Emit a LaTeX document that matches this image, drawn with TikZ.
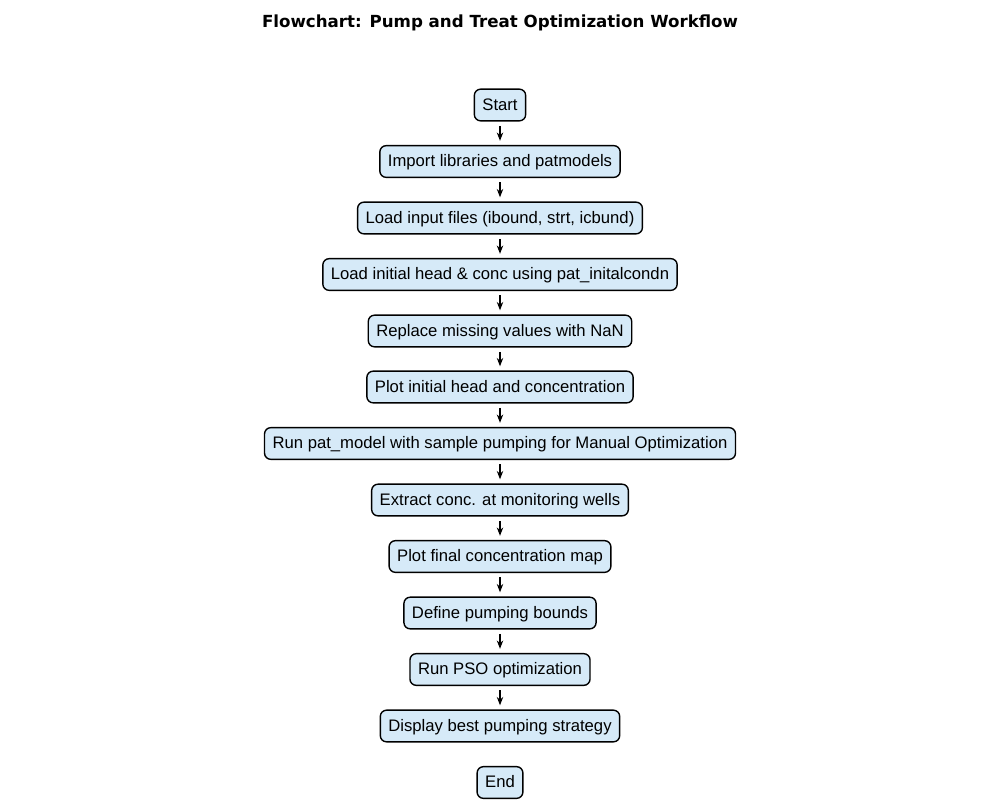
\documentclass[tikz,border=0pt]{standalone}
\usepackage{fontspec}
\setmainfont{Liberation Sans}
\newfontfamily\titlefont{DejaVu Sans}
\usetikzlibrary{arrows.meta}
\definecolor{boxfill}{HTML}{D6EAF8}
\definecolor{ink}{HTML}{000000}
\tikzset{
  stepbox/.style={draw=ink, fill=boxfill, line width=1pt, rounded corners=4.5pt,
    font=\fontsize{12}{14}\selectfont, text height=9.6pt, text depth=2pt,
    inner xsep=5.8pt, inner ysep=5.6pt},
  flow/.style={-{Stealth[length=6pt, width=4.6pt]}, line width=1.1pt, draw=ink,
    shorten <=3.2pt, shorten >=3pt},
}

\begin{document}
\begin{tikzpicture}[x=0.72pt, y=-0.72pt]

\useasboundingbox (0,0) rectangle (1000,800);

% title
\node (title) at (500,22.5)
  {\titlefont\fontsize{12}{14}\selectfont\bfseries Flowchart: Pump and Treat Optimization Workflow};

% workflow steps, top to bottom
\node[stepbox] (start)   at (500,105) {Start};
\node[stepbox] (imp)     at (500,161.5) {Import libraries and patmodels};
\node[stepbox] (loadin)  at (500,218) {Load input files (ibound, strt, icbund)};
\node[stepbox] (loadhc)  at (500,274.5) {Load initial head \& conc using pat\_initalcondn};
\node[stepbox] (nan)     at (500,331) {Replace missing values with NaN};
\node[stepbox] (plotini) at (500,387) {Plot initial head and concentration};
\node[stepbox] (runpat)  at (500,443.5) {Run pat\_model with sample pumping for Manual Optimization};
\node[stepbox] (extract) at (500,500) {Extract conc. at monitoring wells};
\node[stepbox] (plotfin) at (500,556.5) {Plot final concentration map};
\node[stepbox] (bounds)  at (500,613) {Define pumping bounds};
\node[stepbox] (pso)     at (500,669.5) {Run PSO optimization};
\node[stepbox] (best)    at (500,726) {Display best pumping strategy};
\node[stepbox] (end)     at (500,782.5) {End};

% connectors (none into End)
\foreach \a/\b in {start/imp, imp/loadin, loadin/loadhc, loadhc/nan, nan/plotini,
    plotini/runpat, runpat/extract, extract/plotfin, plotfin/bounds, bounds/pso, pso/best}
  \draw[flow] (\a) -- (\b);

\end{tikzpicture}
\end{document}
